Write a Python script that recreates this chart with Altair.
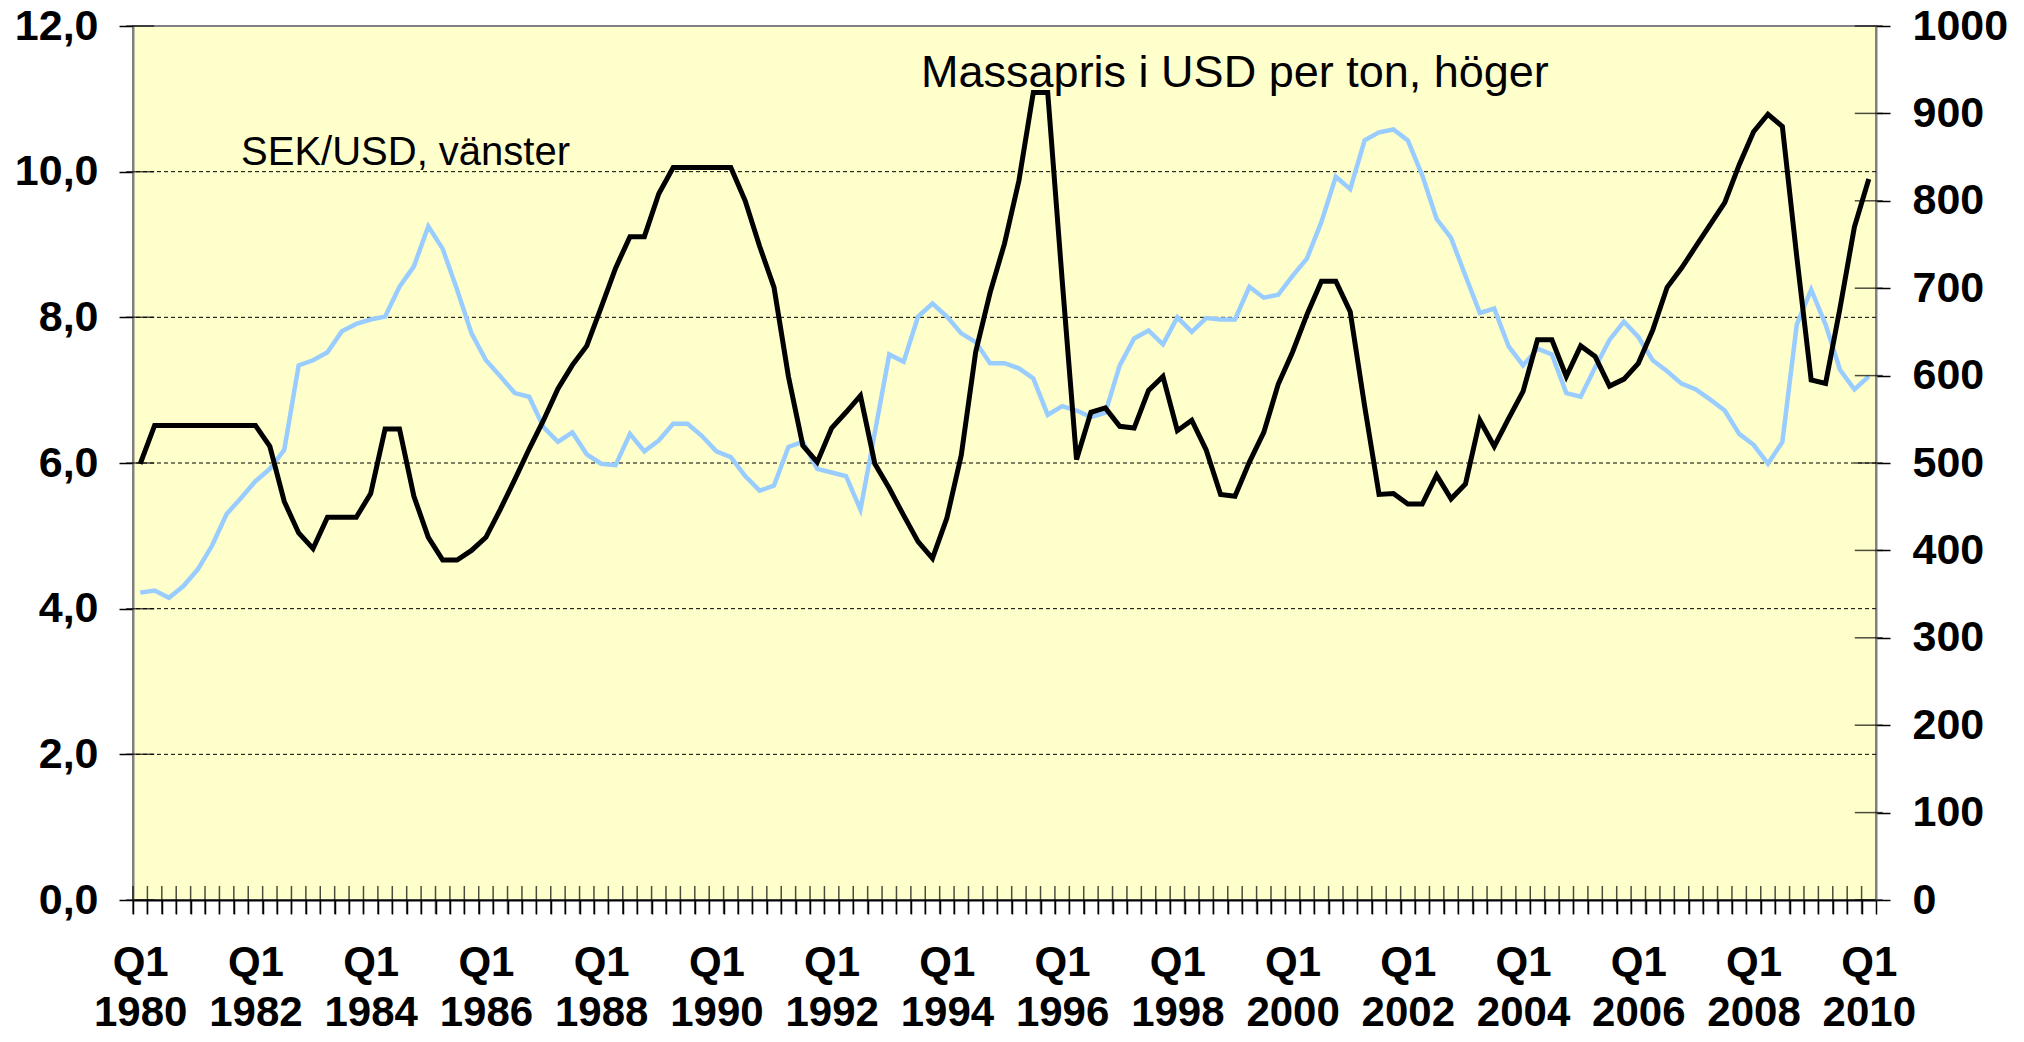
import altair as alt
import pandas as pd

quarters = [f"{1980 + i // 4} Q{i % 4 + 1}" for i in range(121)]

sek_usd = [
    4.22, 4.25, 4.15, 4.31, 4.54, 4.87, 5.30, 5.52, 5.75, 5.92,
    6.18, 7.34, 7.41, 7.52, 7.81, 7.91, 7.97, 8.01, 8.42, 8.70,
    9.25, 8.94, 8.38, 7.78, 7.41, 7.19, 6.96, 6.91, 6.49, 6.29,
    6.42, 6.12, 5.99, 5.97, 6.40, 6.16, 6.31, 6.54, 6.54, 6.37,
    6.16, 6.08, 5.82, 5.62, 5.69, 6.22, 6.29, 5.92, 5.87, 5.82,
    5.36, 6.42, 7.49, 7.39, 8.01, 8.19, 8.01, 7.78, 7.66, 7.37,
    7.37, 7.30, 7.16, 6.66, 6.78, 6.72, 6.63, 6.69, 7.34, 7.71,
    7.82, 7.63, 8.00, 7.80, 7.99, 7.97, 7.97, 8.42, 8.27, 8.31,
    8.57, 8.81, 9.31, 9.93, 9.76, 10.43, 10.54, 10.58, 10.43, 9.95,
    9.35, 9.09, 8.57, 8.06, 8.12, 7.60, 7.34, 7.57, 7.49, 6.96,
    6.91, 7.31, 7.69, 7.94, 7.73, 7.41, 7.26, 7.09, 7.01, 6.87,
    6.72, 6.40, 6.25, 5.99, 6.29, 7.90, 8.38, 7.90, 7.28, 7.01,
    7.19,
]

pulp_usd = [
    499, 543, 543, 543, 543, 543, 543, 543, 543, 519,
    456, 420, 402, 438, 438, 438, 465, 539, 539, 462,
    415, 389, 389, 400, 415, 447, 481, 516, 549, 585,
    612, 634, 678, 723, 759, 759, 808, 838, 838, 838,
    838, 838, 800, 748, 701, 599, 520, 501, 540, 558,
    577, 499, 471, 440, 410, 391, 437, 509, 627, 695,
    751, 823, 924, 924, 710, 504, 558, 563, 542, 540,
    583, 599, 537, 549, 515, 464, 462, 501, 535, 590,
    627, 670, 708, 708, 673, 565, 464, 465, 453, 453,
    486, 459, 476, 549, 519, 551, 582, 641, 641, 599,
    634, 622, 588, 596, 614, 652, 701, 723, 748, 773,
    798, 841, 879, 899, 885, 736, 595, 591, 677, 770,
    825,
]

left_ticks = [0, 2, 4, 6, 8, 10, 12]
right_ticks = [0, 100, 200, 300, 400, 500, 600, 700, 800, 900, 1000]
grid_values = [2, 4, 6, 8, 10]

label_sek = "SEK/USD, vänster"
label_pulp = "Massapris i USD per ton, höger"

FONT = "Liberation Sans"

df = pd.DataFrame({"q": quarters, "sek": sek_usd, "pulp": pulp_usd})
df["zero"] = 0

x_scale = alt.Scale(type="band", domain=quarters, paddingInner=0, paddingOuter=0)
left_scale = alt.Scale(domain=[0, 12], nice=False, zero=True)
right_scale = alt.Scale(domain=[0, 1000], nice=False, zero=True)

x_axis = alt.Axis(
    title=None,
    tickBand="extent",
    labelExpr="slice(datum.label, 5) == 'Q1' && toNumber(slice(datum.label, 0, 4)) % 2 == 0 ? ['Q1', slice(datum.label, 0, 4)] : ''",
    labelOverlap=False,
    labelAngle=0,
    labelBound=False,
    labelFont=FONT,
    labelFontSize=42,
    labelFontWeight="bold",
    labelColor="black",
    labelPadding=28,
    labelLineHeight=50,
    labelBaseline="top",
    tickSize=14,
    tickColor="black",
    tickWidth=1.5,
    domainColor="black",
    domainWidth=2,
    grid=False,
)

left_axis = alt.Axis(
    title=None,
    orient="left",
    values=left_ticks,
    labelExpr="replace(format(datum.value, '.1f'), '.', ',')",
    labelFont=FONT,
    labelFontSize=43,
    labelFontWeight="bold",
    labelColor="black",
    labelPadding=21,
    tickSize=14,
    tickColor="black",
    tickWidth=1.5,
    domainColor="#808080",
    domainWidth=2,
    grid=False,
)

right_axis = alt.Axis(
    title=None,
    orient="right",
    values=right_ticks,
    format="d",
    labelFont=FONT,
    labelFontSize=43,
    labelFontWeight="bold",
    labelColor="black",
    labelPadding=22,
    tickSize=14,
    tickColor="black",
    tickWidth=1.5,
    domainColor="#808080",
    domainWidth=2,
    grid=False,
)

def xq(band=0.5):
    return alt.X("q:N", sort=None, scale=x_scale, axis=x_axis, bandPosition=band)

grid = alt.Chart(pd.DataFrame({"g": grid_values})).mark_rule(
    color="black", strokeWidth=1, strokeDash=[4, 3]
).encode(y=alt.Y("g:Q", scale=left_scale, axis=None))

blue = alt.Chart(df).mark_line(color="#99CCFF", strokeWidth=4.5).encode(
    x=xq(0.5),
    y=alt.Y("sek:Q", scale=left_scale, axis=left_axis),
)

black = alt.Chart(df).mark_line(color="black", strokeWidth=5).encode(
    x=xq(0.5),
    y=alt.Y("pulp:Q", scale=right_scale, axis=right_axis),
)

x_inner = alt.Chart(df).mark_tick(
    orient="vertical", size=28, thickness=1.5, color="black"
).encode(
    x=xq(0),
    y=alt.Y("zero:Q", scale=left_scale, axis=None),
)

left_inner = alt.Chart(
    pd.DataFrame({"v": left_ticks, "q": [quarters[0]] * len(left_ticks)})
).mark_tick(orient="horizontal", size=28, thickness=1.5, color="black").encode(
    x=xq(0),
    y=alt.Y("v:Q", scale=left_scale, axis=None),
)

right_inner = alt.Chart(
    pd.DataFrame({"v": right_ticks, "q": [quarters[-1]] * len(right_ticks)})
).mark_tick(orient="horizontal", size=28, thickness=1.5, color="black").encode(
    x=xq(1),
    y=alt.Y("v:Q", scale=right_scale, axis=None),
)

text_sek = alt.Chart(
    pd.DataFrame({"q": [quarters[7]], "v": [10.25], "t": [label_sek]})
).mark_text(
    align="left", baseline="middle", font=FONT, fontSize=40, color="black"
).encode(
    x=xq(0.5),
    y=alt.Y("v:Q", scale=left_scale, axis=None),
    text="t:N",
)

text_pulp = alt.Chart(
    pd.DataFrame({"q": [quarters[54]], "v": [11.36], "t": [label_pulp]})
).mark_text(
    align="left", baseline="middle", font=FONT, fontSize=45, color="black", dx=3
).encode(
    x=xq(0.5),
    y=alt.Y("v:Q", scale=left_scale, axis=None),
    text="t:N",
)

chart = (
    alt.layer(grid, blue, black, x_inner, left_inner, right_inner, text_sek, text_pulp)
    .resolve_scale(y="independent")
    .properties(
        width=1743,
        height=874,
        padding={"left": 125, "top": 18, "right": 140, "bottom": 134},
        autosize=alt.AutoSizeParams(type="none"),
        background="white",
    )
    .configure_view(fill="#FFFFCC", stroke="#808080", strokeWidth=2)
)

chart.save("out.html", embed_options={"renderer": "svg", "actions": False})
